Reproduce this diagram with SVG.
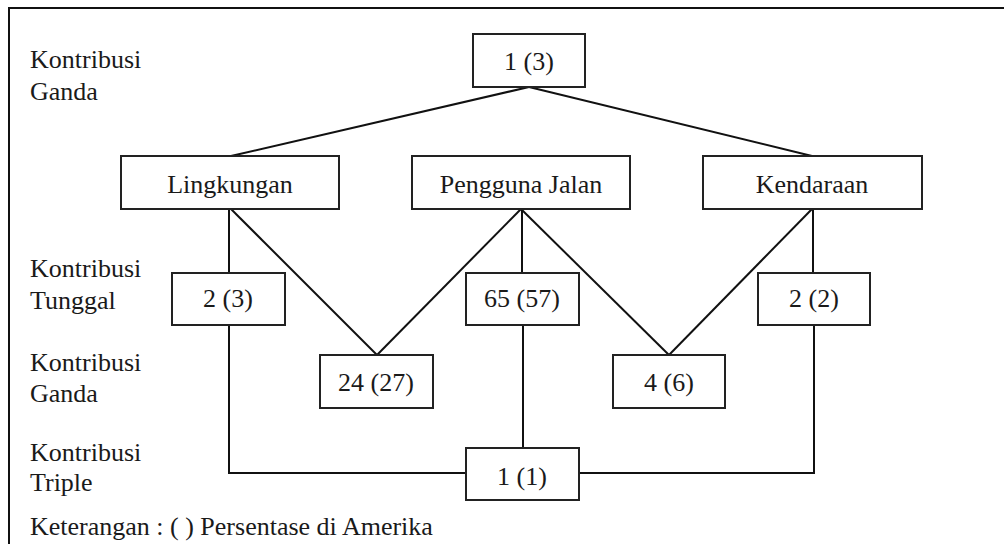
<svg xmlns="http://www.w3.org/2000/svg" width="1004" height="544" viewBox="0 0 1004 544">
<rect width="1004" height="544" fill="#fff"/>
<g id="frame" fill="none" stroke="#111" stroke-width="2"><path d="M9,544 V8 H1004"/></g>
<g id="labels">
<text x="30" y="68" font-family="Liberation Serif" font-size="26" fill="#1a1a1a">Kontribusi</text>
<text x="30" y="100" font-family="Liberation Serif" font-size="26" fill="#1a1a1a">Ganda</text>
<text x="30" y="277" font-family="Liberation Serif" font-size="26" fill="#1a1a1a">Kontribusi</text>
<text x="30" y="309" font-family="Liberation Serif" font-size="26" fill="#1a1a1a">Tunggal</text>
<text x="30" y="371" font-family="Liberation Serif" font-size="26" fill="#1a1a1a">Kontribusi</text>
<text x="30" y="402" font-family="Liberation Serif" font-size="26" fill="#1a1a1a">Ganda</text>
<text x="30" y="461" font-family="Liberation Serif" font-size="26" fill="#1a1a1a">Kontribusi</text>
<text x="30" y="491" font-family="Liberation Serif" font-size="26" fill="#1a1a1a">Triple</text>
<text x="30" y="535" font-family="Liberation Serif" font-size="26" fill="#1a1a1a">Keterangan : ( ) Persentase di Amerika</text>
</g>
<g id="connectors" fill="none" stroke="#111" stroke-width="2">
<path d="M529,87 L231,156"/>
<path d="M529,87 L812,156"/>
<path d="M229,209 V273"/>
<path d="M231,209 L377,355"/>
<path d="M521,209 L377,355"/>
<path d="M521,209 L669,355"/>
<path d="M522,209 V273"/>
<path d="M812,209 L669,355"/>
<path d="M813,209 V273"/>
<path d="M229,325 V473 H466"/>
<path d="M814,325 V473 H579"/>
<path d="M523,325 V448"/>
</g>
<g id="n-top"><rect x="473" y="34" width="112" height="53" fill="none" stroke="#222" stroke-width="2"/><text x="529" y="70" text-anchor="middle" font-family="Liberation Serif" font-size="26" fill="#1a1a1a">1 (3)</text></g>
<g id="n-lingkungan"><rect x="121" y="156" width="218" height="53" fill="none" stroke="#222" stroke-width="2"/><text x="230" y="193" text-anchor="middle" font-family="Liberation Serif" font-size="26" fill="#1a1a1a">Lingkungan</text></g>
<g id="n-pengguna"><rect x="412" y="156" width="218" height="53" fill="none" stroke="#222" stroke-width="2"/><text x="521" y="193" text-anchor="middle" font-family="Liberation Serif" font-size="26" fill="#1a1a1a">Pengguna Jalan</text></g>
<g id="n-kendaraan"><rect x="703" y="156" width="219" height="53" fill="none" stroke="#222" stroke-width="2"/><text x="812" y="193" text-anchor="middle" font-family="Liberation Serif" font-size="26" fill="#1a1a1a">Kendaraan</text></g>
<g id="n-2-3"><rect x="172" y="273" width="113" height="52" fill="none" stroke="#222" stroke-width="2"/><text x="228" y="307" text-anchor="middle" font-family="Liberation Serif" font-size="26" fill="#1a1a1a">2 (3)</text></g>
<g id="n-65-57"><rect x="466" y="273" width="113" height="52" fill="none" stroke="#222" stroke-width="2"/><text x="522" y="307" text-anchor="middle" font-family="Liberation Serif" font-size="26" fill="#1a1a1a">65 (57)</text></g>
<g id="n-2-2"><rect x="758" y="273" width="112" height="52" fill="none" stroke="#222" stroke-width="2"/><text x="814" y="307" text-anchor="middle" font-family="Liberation Serif" font-size="26" fill="#1a1a1a">2 (2)</text></g>
<g id="n-24-27"><rect x="320" y="355" width="113" height="53" fill="none" stroke="#222" stroke-width="2"/><text x="376" y="391" text-anchor="middle" font-family="Liberation Serif" font-size="26" fill="#1a1a1a">24 (27)</text></g>
<g id="n-4-6"><rect x="613" y="355" width="112" height="53" fill="none" stroke="#222" stroke-width="2"/><text x="669" y="391" text-anchor="middle" font-family="Liberation Serif" font-size="26" fill="#1a1a1a">4 (6)</text></g>
<g id="n-1-1"><rect x="466" y="448" width="113" height="52" fill="none" stroke="#222" stroke-width="2"/><text x="522" y="485" text-anchor="middle" font-family="Liberation Serif" font-size="26" fill="#1a1a1a">1 (1)</text></g>
</svg>
